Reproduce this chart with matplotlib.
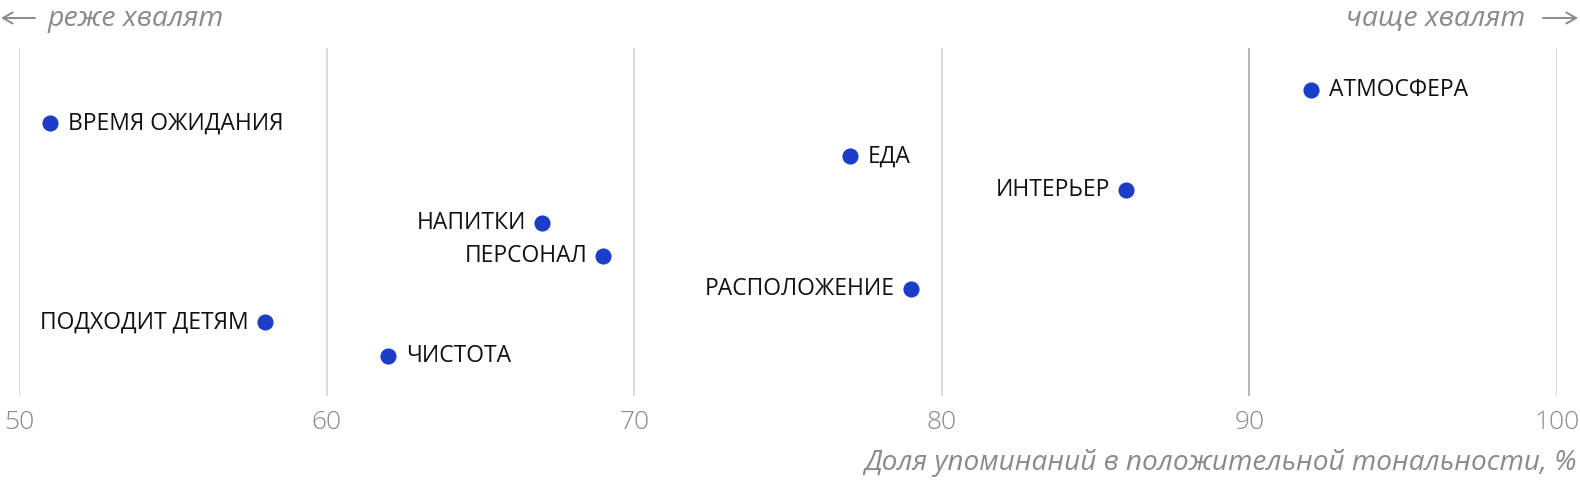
import matplotlib
matplotlib.use("Agg")
import matplotlib.pyplot as plt
from matplotlib.patches import FancyArrowPatch

# доля упоминаний в положительной тональности, %
aspects = ["АТМОСФЕРА", "ВРЕМЯ ОЖИДАНИЯ", "ЕДА", "ИНТЕРЬЕР", "НАПИТКИ",
           "ПЕРСОНАЛ", "РАСПОЛОЖЕНИЕ", "ПОДХОДИТ ДЕТЯМ", "ЧИСТОТА"]
share = [92, 51, 77, 86, 67, 69, 79, 58, 62]
label_side = ["right", "right", "right", "left", "left",
              "left", "left", "left", "right"]
xticks = [50, 60, 70, 80, 90, 100]

FONT = ["Open Sans", "DejaVu Sans"]
GREY = "#8a8a8a"
BLUE = "#1c3dc8"

W, H = 1580, 480
X0, X1 = 19, 1557        # pixel x of 50 and 100
TOP, BOT = 48, 396       # gridline extent in pixels
ROW0, STEP = 90, 33.2    # first row centre, row spacing


def fx(px):
    return px / W


def fy(py):
    return 1 - py / H


fig = plt.figure(figsize=(W / 100, H / 100), dpi=100)
ax = fig.add_axes([fx(X0), fy(BOT), (X1 - X0) / W, (BOT - TOP) / H])

rows = list(range(len(aspects)))
ax.set_xlim(50, 100)
ax.set_ylim((BOT - ROW0) / STEP, (TOP - ROW0) / STEP)

for t in xticks:
    ax.axvline(t, color="#aaaaaa" if t == 90 else "#d3d3d3", lw=1.2, zorder=0)

ax.scatter(share, rows, s=135, color=BLUE, zorder=3, linewidths=0)

for name, x, y, side in zip(aspects, share, rows, label_side):
    off = 18 if side == "right" else -16
    ax.annotate(name, (x, y), xytext=(off * 0.72, 0), textcoords="offset points",
                ha="left" if side == "right" else "right", va="center",
                fontsize=16.5, family=FONT, color="#111111")

for s in ax.spines.values():
    s.set_visible(False)
ax.set_yticks([])
ax.set_xticks(xticks)
ax.tick_params(axis="x", length=0, pad=10, labelsize=19, labelcolor=GREY)
for lbl in ax.get_xticklabels():
    lbl.set_family(FONT)
    lbl.set_fontweight("light")

fig.text(fx(1577), fy(463), "Доля упоминаний в положительной тональности, %",
         ha="right", va="center", fontsize=20.2, style="italic", color=GREY, family=FONT)

# direction hints at the top
fig.text(fx(48), fy(19), "реже хвалят", ha="left", va="center",
         fontsize=20.5, style="italic", color=GREY, family=FONT)
fig.text(fx(1525), fy(19), "чаще хвалят", ha="right", va="center",
         fontsize=20.5, style="italic", color=GREY, family=FONT)
for a, b in [(35, 1), (1543, 1578)]:
    fig.patches.append(FancyArrowPatch((fx(a), fy(18)), (fx(b), fy(18)),
                                       transform=fig.transFigure, arrowstyle="->,head_length=7,head_width=4",
                                       color=GREY, lw=1.4, shrinkA=0, shrinkB=0,
                                       mutation_scale=1))

fig.savefig("out.png", dpi=100)
